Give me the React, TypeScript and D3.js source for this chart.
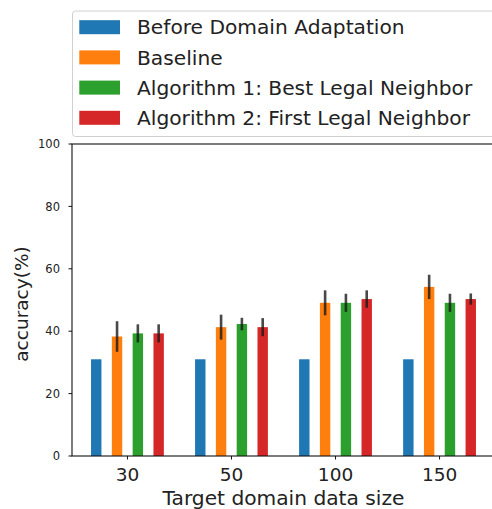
import React from "react";
import * as d3 from "d3";

// Target domain data sizes (x categories)
const categories = ["30", "50", "100", "150"];

// Series names shown in the legend
const seriesNames = [
  "Before Domain Adaptation",
  "Baseline",
  "Algorithm 1: Best Legal Neighbor",
  "Algorithm 2: First Legal Neighbor",
];

// Accuracy (%) per series, one value per category
const beforeAdaptation = [31, 31, 31, 31];
const baseline = [38.3, 41.3, 49.1, 54.2];
const algorithm1 = [39.3, 42.3, 49.1, 49.1];
const algorithm2 = [39.3, 41.3, 50.3, 50.3];

// Error bar half-heights (null = no error bar)
const beforeErr = [null, null, null, null];
const baselineErr = [4.9, 4.0, 4.0, 3.9];
const algorithm1Err = [2.9, 2.0, 2.9, 2.9];
const algorithm2Err = [2.9, 2.9, 2.8, 1.8];

const yTicks = [0, 20, 40, 60, 80, 100];

const colors = ["#1f77b4", "#ff7f0e", "#2ca02c", "#d62728"];
const offsets = [-0.3, -0.1, 0.1, 0.3];
const barWidth = 0.1;

const W = 492;
const H = 509;
const left = 72;
const right = 495;
const top = 144;
const bottom = 456;

const FONT = "'DejaVu Sans', sans-serif";
const TEXT = "#222";

export default function App() {
  const values = [beforeAdaptation, baseline, algorithm1, algorithm2];
  const errors = [beforeErr, baselineErr, algorithm1Err, algorithm2Err];

  const x = d3.scaleLinear().domain([-0.533, categories.length - 1 + 0.533]).range([left, right]);
  const y = d3.scaleLinear().domain([0, 100]).range([bottom, top]);
  const bw = x(barWidth) - x(0);

  return (
    <svg
      width={W}
      height={H}
      style={{ position: "fixed", left: 0, top: 0, background: "#fff" }}
      fontFamily={FONT}
    >
      <rect x={0} y={0} width={W} height={H} fill="#fff" />

      {/* bars */}
      {values.map((vals, s) =>
        vals.map((v, i) => {
          const cx = x(i + offsets[s]);
          return (
            <rect
              key={`b-${s}-${i}`}
              x={cx - bw / 2}
              y={y(v)}
              width={bw}
              height={y(0) - y(v)}
              fill={colors[s]}
            />
          );
        })
      )}

      {/* error bars */}
      {values.map((vals, s) =>
        vals.map((v, i) => {
          const e = errors[s][i];
          if (e == null) return null;
          const cx = x(i + offsets[s]);
          return (
            <line
              key={`e-${s}-${i}`}
              x1={cx}
              x2={cx}
              y1={y(v - e)}
              y2={y(v + e)}
              stroke="#1a1a1a"
              strokeOpacity={0.8}
              strokeWidth={2.6}
            />
          );
        })
      )}

      {/* spines */}
      <rect x={left} y={top} width={right - left} height={bottom - top} fill="none" stroke="#111" strokeWidth={1.1} />

      {/* y ticks */}
      {yTicks.map((t) => (
        <g key={`yt-${t}`}>
          <line x1={left - 3.5} x2={left} y1={y(t)} y2={y(t)} stroke="#111" strokeWidth={1} />
          <text x={left - 12} y={y(t)} dy="0.36em" textAnchor="end" fontSize={11.5} fill={TEXT}>
            {t}
          </text>
        </g>
      ))}

      {/* x ticks */}
      {categories.map((c, i) => (
        <g key={`xt-${c}`}>
          <line x1={x(i)} x2={x(i)} y1={bottom} y2={bottom + 3.5} stroke="#111" strokeWidth={1} />
          <text x={x(i)} y={481} textAnchor="middle" fontSize={18.5} fill={TEXT}>
            {c}
          </text>
        </g>
      ))}

      {/* axis labels */}
      <text x={(left + right) / 2} y={505} textAnchor="middle" fontSize={20.2} fill={TEXT}>
        Target domain data size
      </text>
      <text
        transform={`translate(28,${(top + bottom) / 2 + 4}) rotate(-90)`}
        textAnchor="middle"
        fontSize={18.5}
        fill={TEXT}
      >
        accuracy(%)
      </text>

      {/* legend */}
      <rect x={72.5} y={11} width={440} height={125.5} rx={3} fill="#fff" fillOpacity={0.8} stroke="#d0d0d0" strokeWidth={1} />
      {seriesNames.map((name, s) => {
        const cy = 27.2 + s * 30.2;
        return (
          <g key={`lg-${s}`}>
            <rect x={79.3} y={cy - 7} width={40.7} height={14} fill={colors[s]} />
            <text x={137} y={cy} dy="0.36em" fontSize={20.2} fill={TEXT}>
              {name}
            </text>
          </g>
        );
      })}
    </svg>
  );
}
